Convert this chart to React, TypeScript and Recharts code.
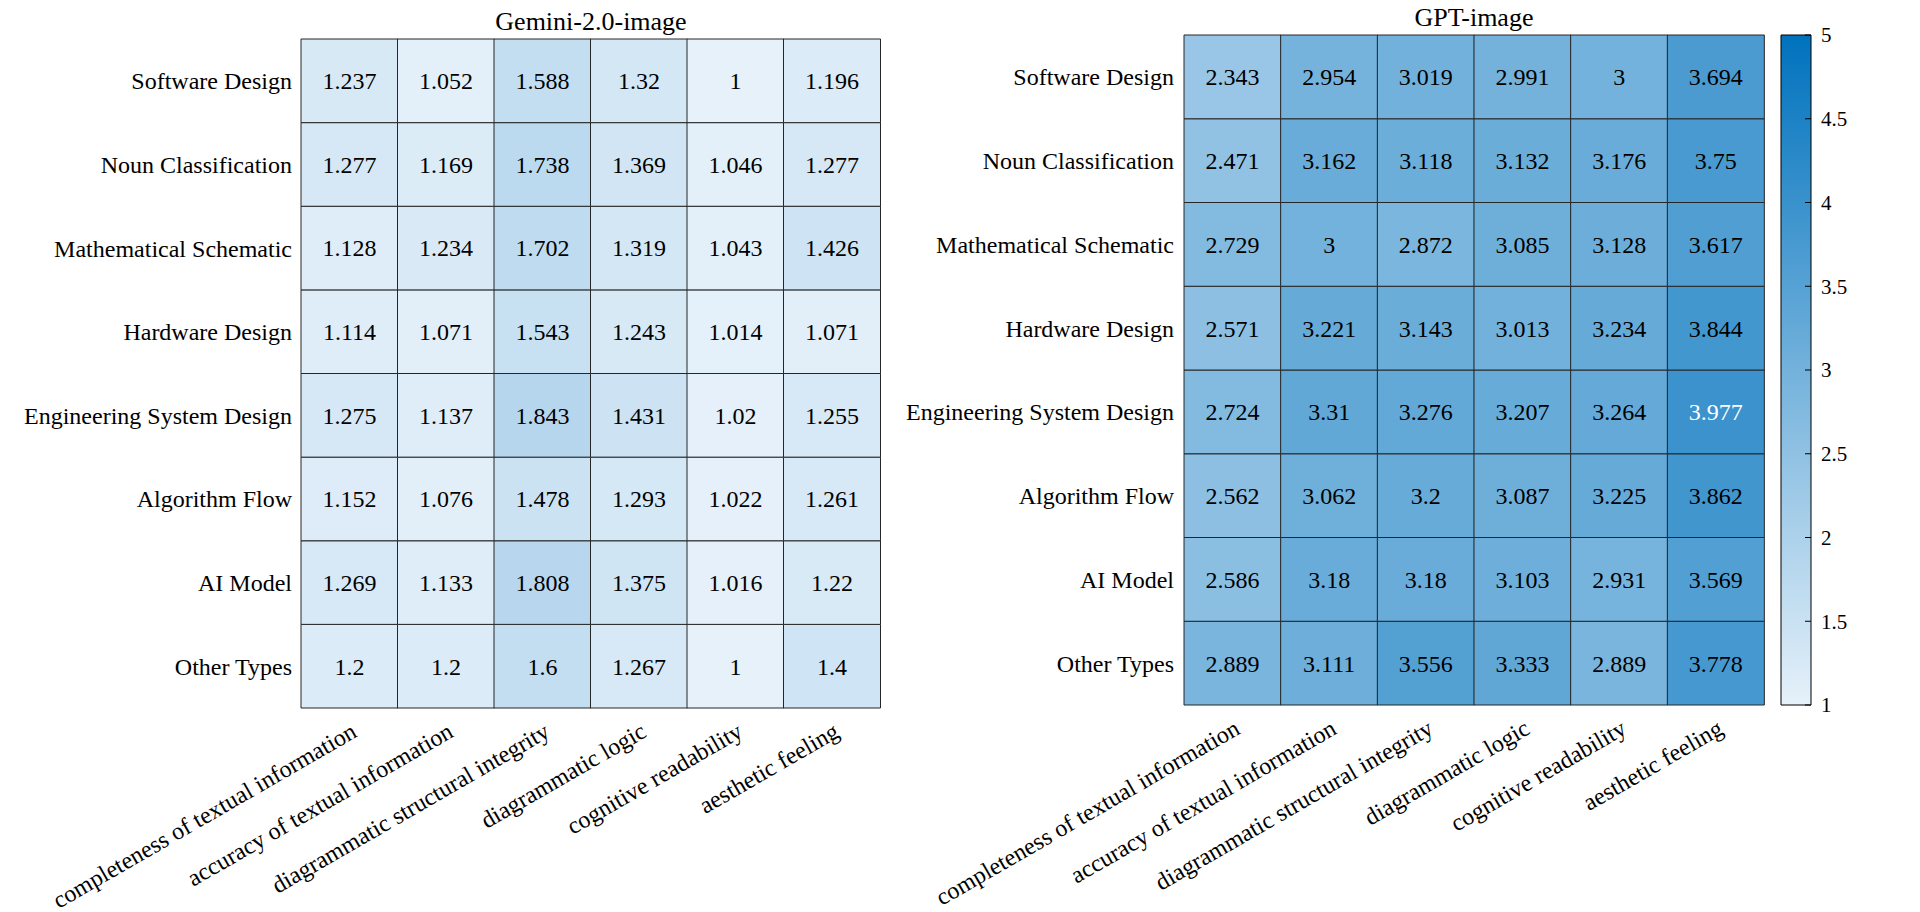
import { BarChart, Bar, XAxis, YAxis, Cell, LabelList } from "recharts";

const categories = [
  "Software Design",
  "Noun Classification",
  "Mathematical Schematic",
  "Hardware Design",
  "Engineering System Design",
  "Algorithm Flow",
  "AI Model",
  "Other Types",
];

const metrics = [
  "completeness of textual information",
  "accuracy of textual information",
  "diagrammatic structural integrity",
  "diagrammatic logic",
  "cognitive readability",
  "aesthetic feeling",
];

const geminiScores = [
  [1.237, 1.052, 1.588, 1.32, 1, 1.196],
  [1.277, 1.169, 1.738, 1.369, 1.046, 1.277],
  [1.128, 1.234, 1.702, 1.319, 1.043, 1.426],
  [1.114, 1.071, 1.543, 1.243, 1.014, 1.071],
  [1.275, 1.137, 1.843, 1.431, 1.02, 1.255],
  [1.152, 1.076, 1.478, 1.293, 1.022, 1.261],
  [1.269, 1.133, 1.808, 1.375, 1.016, 1.22],
  [1.2, 1.2, 1.6, 1.267, 1, 1.4],
];

const gptScores = [
  [2.343, 2.954, 3.019, 2.991, 3, 3.694],
  [2.471, 3.162, 3.118, 3.132, 3.176, 3.75],
  [2.729, 3, 2.872, 3.085, 3.128, 3.617],
  [2.571, 3.221, 3.143, 3.013, 3.234, 3.844],
  [2.724, 3.31, 3.276, 3.207, 3.264, 3.977],
  [2.562, 3.062, 3.2, 3.087, 3.225, 3.862],
  [2.586, 3.18, 3.18, 3.103, 2.931, 3.569],
  [2.889, 3.111, 3.556, 3.333, 2.889, 3.778],
];

const colorTicks = [1, 1.5, 2, 2.5, 3, 3.5, 4, 4.5, 5];
const colorRange = [1, 5];

const FONT = "'Liberation Serif', 'Times New Roman', serif";
const LOW = [230, 241, 250];
const HIGH = [0, 114, 189];

function colorFor(v: number) {
  const t = Math.min(1, Math.max(0, (v - colorRange[0]) / (colorRange[1] - colorRange[0])));
  const c = LOW.map((lo, k) => Math.round(lo + (HIGH[k] - lo) * t));
  return `rgb(${c[0]},${c[1]},${c[2]})`;
}

function buildRows(scores: number[][]) {
  return metrics.map((metric, j) => {
    const row: Record<string, any> = { metric };
    categories.forEach((_, i) => {
      row[`c${i}`] = 1;
      row[`v${i}`] = scores[i][j];
    });
    return row;
  });
}

const rowTicks = categories.map((_, i) => i + 0.5);

function renderValue(props: any) {
  const x = Number(props.x);
  const y = Number(props.y);
  const w = Number(props.width);
  const h = Number(props.height);
  const v = Number(props.value);
  return (
    <text
      x={x + w / 2}
      y={y + h / 2}
      dy="0.35em"
      textAnchor="middle"
      fontFamily={FONT}
      fontSize={24}
      fill={v > 3.9 ? "#ffffff" : "#000000"}
    >
      {String(v)}
    </text>
  );
}

function RotatedTick(props: any) {
  const { x, y, payload } = props;
  const ax = x + 9;
  const ay = y + 28;
  return (
    <text
      x={ax}
      y={ay}
      transform={`rotate(-30 ${ax} ${ay})`}
      textAnchor="end"
      fontFamily={FONT}
      fontSize={24}
      fill="#000"
    >
      {payload.value}
    </text>
  );
}

interface HeatmapProps {
  scores: number[][];
  width: number;
  top: number;
  bottom: number;
  right: number;
  axisWidth: number;
  labelGap: number;
}

function Heatmap({ scores, width, top, bottom, right, axisWidth, labelGap }: HeatmapProps) {
  const data = buildRows(scores);
  const order = categories.map((_, i) => categories.length - 1 - i);
  return (
    <BarChart
      width={width}
      height={912}
      data={data}
      margin={{ top, bottom: 0, left: 0, right }}
      barCategoryGap={0}
      barGap={0}
    >
      <XAxis
        dataKey="metric"
        type="category"
        interval={0}
        height={bottom}
        tickLine={false}
        axisLine={false}
        tickSize={0}
        tickMargin={0}
        tick={<RotatedTick />}
      />
      <YAxis
        type="number"
        domain={[0, categories.length]}
        ticks={rowTicks}
        interval={0}
        width={axisWidth}
        tickLine={false}
        axisLine={false}
        tickSize={0}
        tickMargin={labelGap}
        tickFormatter={(v: number) => categories[categories.length - 1 - Math.floor(v)]}
        tick={{ fill: "#000", fontSize: 24, fontFamily: FONT }}
      />
      {order.map((i) => (
        <Bar
          key={i}
          dataKey={`c${i}`}
          stackId="cells"
          isAnimationActive={false}
          stroke="#262626"
          strokeWidth={1}
        >
          {data.map((d, j) => (
            <Cell key={j} fill={colorFor(d[`v${i}`])} />
          ))}
          <LabelList dataKey={`v${i}`} content={renderValue} />
        </Bar>
      ))}
    </BarChart>
  );
}

function ColorBar() {
  const data = [{ name: "scale", range: colorRange }];
  return (
    <BarChart
      width={150}
      height={912}
      data={data}
      margin={{ top: 35, bottom: 207, left: 11, right: 0 }}
      barCategoryGap={0}
    >
      <defs>
        <linearGradient id="cbGrad" x1="0" y1="0" x2="0" y2="1">
          <stop offset="0%" stopColor={colorFor(5)} />
          <stop offset="100%" stopColor={colorFor(1)} />
        </linearGradient>
      </defs>
      <XAxis dataKey="name" hide />
      <YAxis
        orientation="right"
        type="number"
        domain={colorRange}
        ticks={colorTicks}
        interval={0}
        width={109}
        axisLine={false}
        tickSize={-6}
        tickMargin={16}
        tickLine={{ stroke: "#000", strokeWidth: 1 }}
        tick={{ fill: "#000", fontSize: 21, fontFamily: FONT, textAnchor: "start" }}
      />
      <Bar dataKey="range" fill="url(#cbGrad)" stroke="#000" strokeWidth={1} isAnimationActive={false} />
    </BarChart>
  );
}

export default function App() {
  return (
    <div style={{ position: "absolute", left: 0, top: 0, width: 1920, height: 912, background: "#fff", fontFamily: FONT }}>
      <div style={{ position: "absolute", left: 0, top: 0 }}>
        <Heatmap scores={geminiScores} width={940} top={39} bottom={204} right={60} axisWidth={301} labelGap={9} />
      </div>
      <div style={{ position: "absolute", left: 640, top: 0 }}>
        <Heatmap scores={gptScores} width={1150} top={35} bottom={207} right={26} axisWidth={544} labelGap={10} />
      </div>
      <div style={{ position: "absolute", left: 1770, top: 0 }}>
        <ColorBar />
      </div>
      <svg width={1920} height={60} style={{ position: "absolute", left: 0, top: 0, pointerEvents: "none" }}>
        <text x={591} y={29.5} textAnchor="middle" fontFamily={FONT} fontSize={26} fill="#000">
          Gemini-2.0-image
        </text>
        <text x={1474} y={26} textAnchor="middle" fontFamily={FONT} fontSize={26} fill="#000">
          GPT-image
        </text>
      </svg>
    </div>
  );
}
